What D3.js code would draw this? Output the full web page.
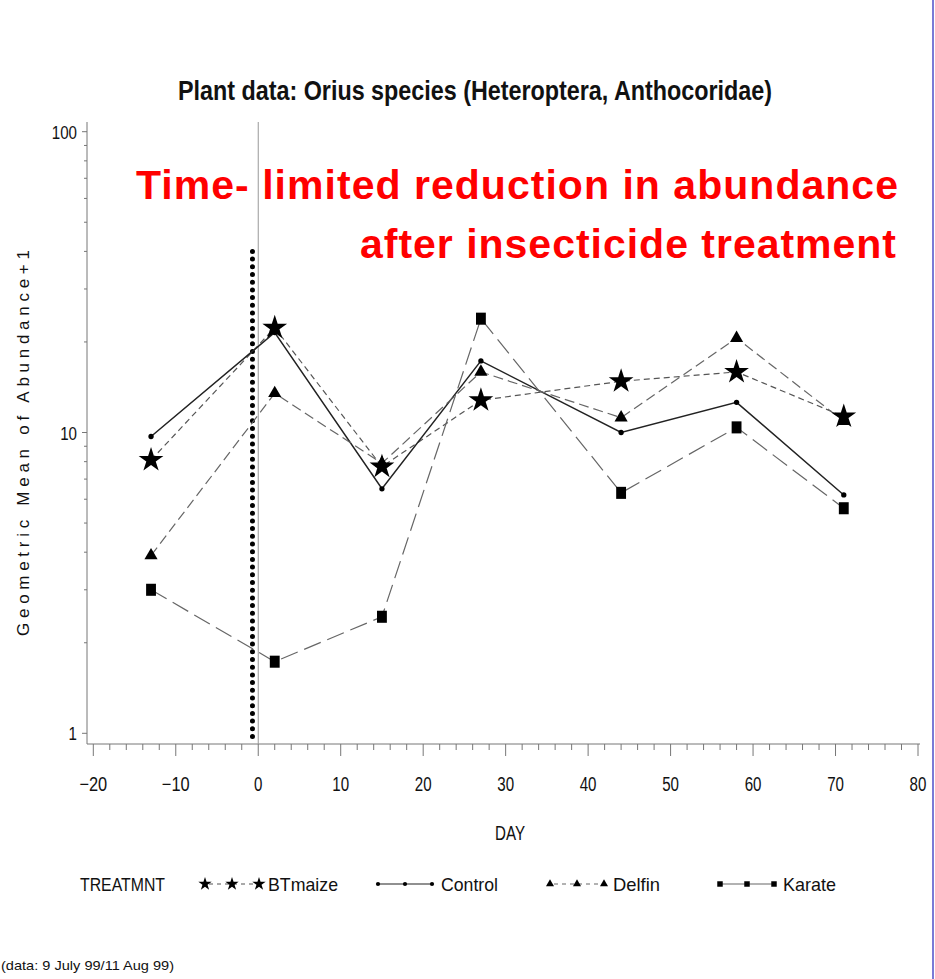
<!DOCTYPE html>
<html lang="en">

<head>
    <meta charset="UTF-8">
    <title>Plant data: Orius species</title>
    <script src="https://d3js.org/d3.v7.min.js"></script>
    <style>
        body {
            margin: 0;
            background: #fff;
        }

        .narrow {
            font-family: "Liberation Sans Narrow", "Arial Narrow", "Liberation Sans", Arial, sans-serif;
            fill: #111;
        }

        .series-line {
            fill: none;
        }
    </style>
</head>

<body>
    <script>
        // values (geometric mean of abundance + 1)
        const days = [-13, 2, 15, 27, 44, 58, 71];
        const btmaize = [8.1, 22.3, 7.7, 12.8, 14.8, 15.9, 11.3];
        const control = [9.7, 21.5, 6.5, 17.3, 10.0, 12.6, 6.2];
        const delfin = [3.9, 13.5, 7.9, 15.9, 11.2, 20.6, 10.9];
        const karate = [3.0, 1.73, 2.44, 23.9, 6.3, 10.4, 5.6];

        const treatments = ["BTmaize", "Control", "Delfin", "Karate"];
        const xTicks = [-20, -10, 0, 10, 20, 30, 40, 50, 60, 70, 80];
        const yTicks = [1, 10, 100];

        const width = 935;
        const height = 979;

        const svg = d3.select("body")
            .append("svg")
            .attr("width", width)
            .attr("height", height);

        const x = d3.scaleLinear().domain([-20, 80]).range([93.3, 918]);
        const y = d3.scaleLog().domain([1, 100]).range([733.3, 131.7]);

        const axisX = 87;     // y axis position
        const axisY = 744;    // x axis position
        const axisTop = 122;

        // squeeze text to look like the narrow SAS font
        const tickLabel = d => d < 0 ? "\u2212" + Math.abs(d) : String(d);
        const tickLen = s => s.replace("\u2212", "").length * 8.4 + (s.startsWith("\u2212") ? 11 : 0);

        // blue frame line at the right edge
        svg.append("line")
            .attr("x1", 933).attr("x2", 933)
            .attr("y1", 0).attr("y2", height)
            .attr("stroke", "#7b7bd6")
            .attr("stroke-width", 2);

        // title
        svg.append("text")
            .attr("class", "narrow")
            .attr("x", 475)
            .attr("y", 100)
            .attr("text-anchor", "middle")
            .attr("font-size", 27)
            .attr("font-weight", "bold")
            .attr("textLength", 594)
            .attr("lengthAdjust", "spacingAndGlyphs")
            .text("Plant data: Orius species (Heteroptera, Anthocoridae)");

        // axes lines
        svg.append("line")
            .attr("x1", axisX).attr("x2", axisX)
            .attr("y1", axisTop).attr("y2", axisY)
            .attr("stroke", "#777").attr("stroke-width", 1);
        svg.append("line")
            .attr("x1", axisX).attr("x2", 920)
            .attr("y1", axisY).attr("y2", axisY)
            .attr("stroke", "#777").attr("stroke-width", 1);

        // y ticks: majors with labels, minor log ticks
        const yMinor = d3.range(1, 100).filter(v => v > 1 && (v < 10 || v % 10 === 0) && v !== 10);
        svg.append("g").selectAll("line")
            .data(yMinor)
            .join("line")
            .attr("x1", axisX - 3).attr("x2", axisX)
            .attr("y1", d => y(d)).attr("y2", d => y(d))
            .attr("stroke", "#777");
        svg.append("g").selectAll("line")
            .data(yTicks)
            .join("line")
            .attr("x1", axisX - 5).attr("x2", axisX)
            .attr("y1", d => y(d)).attr("y2", d => y(d))
            .attr("stroke", "#777");
        svg.append("g").selectAll("text")
            .data(yTicks)
            .join("text")
            .attr("class", "narrow")
            .attr("x", axisX - 10)
            .attr("y", d => y(d) + 7)
            .attr("text-anchor", "end")
            .attr("font-size", 19)
            .attr("textLength", d => tickLen(tickLabel(d)))
            .attr("lengthAdjust", "spacingAndGlyphs")
            .text(tickLabel);

        // x ticks
        const xMinor = d3.range(-20, 81, 2).filter(v => v % 10 !== 0);
        svg.append("g").selectAll("line")
            .data(xMinor)
            .join("line")
            .attr("x1", d => x(d)).attr("x2", d => x(d))
            .attr("y1", axisY).attr("y2", axisY + 6)
            .attr("stroke", "#777");
        svg.append("g").selectAll("line")
            .data(xTicks)
            .join("line")
            .attr("x1", d => x(d)).attr("x2", d => x(d))
            .attr("y1", axisY).attr("y2", axisY + 12)
            .attr("stroke", "#777");
        svg.append("g").selectAll("text")
            .data(xTicks)
            .join("text")
            .attr("class", "narrow")
            .attr("x", d => x(d))
            .attr("y", 791)
            .attr("text-anchor", "middle")
            .attr("font-size", 20)
            .attr("textLength", d => tickLen(tickLabel(d)))
            .attr("lengthAdjust", "spacingAndGlyphs")
            .text(tickLabel);

        svg.append("text")
            .attr("class", "narrow")
            .attr("x", 510)
            .attr("y", 840)
            .attr("text-anchor", "middle")
            .attr("font-size", 20)
            .attr("textLength", 30)
            .attr("lengthAdjust", "spacingAndGlyphs")
            .text("DAY");

        // y label
        svg.append("text")
            .attr("transform", "translate(29,443) rotate(-90)")
            .attr("text-anchor", "middle")
            .attr("font-family", "Liberation Sans, Arial, sans-serif")
            .attr("font-size", 17)
            .attr("fill", "#111")
            .attr("textLength", 386)
            .attr("lengthAdjust", "spacing")
            .text("Geometric Mean of Abundance+1");

        // reference line at day 0 and treatment marker (dotted)
        svg.append("line")
            .attr("x1", x(0)).attr("x2", x(0))
            .attr("y1", axisTop).attr("y2", axisY)
            .attr("stroke", "#999").attr("stroke-width", 1);
        svg.append("line")
            .attr("x1", x(-0.7)).attr("x2", x(-0.7))
            .attr("y1", y(40)).attr("y2", axisY - 2)
            .attr("stroke", "#000")
            .attr("stroke-width", 5)
            .attr("stroke-linecap", "round")
            .attr("stroke-dasharray", "0 7.7");

        // red annotation
        const note = svg.append("g")
            .attr("font-family", "Liberation Sans, Arial, sans-serif")
            .attr("font-weight", "bold")
            .attr("font-size", 41)
            .attr("fill", "#ff0000")
            .attr("text-anchor", "end");
        note.append("text")
            .attr("x", 898).attr("y", 199)
            .attr("textLength", 762)
            .attr("lengthAdjust", "spacing")
            .text("Time- limited reduction in abundance");
        note.append("text")
            .attr("x", 896).attr("y", 258)
            .attr("textLength", 536)
            .attr("lengthAdjust", "spacing")
            .text("after insecticide treatment");

        // series definitions
        const series = [
            { name: "BTmaize", values: btmaize, symbol: d3.symbolStar, size: 190, dash: "6,4", stroke: "#555", width: 1.2 },
            { name: "Control", values: control, symbol: d3.symbolCircle, size: 22, dash: null, stroke: "#222", width: 1.5 },
            { name: "Delfin", values: delfin, symbol: d3.symbolTriangle, size: 75, dash: "10,5", stroke: "#666", width: 1.2 },
            { name: "Karate", values: karate, symbol: d3.symbolSquare, size: 120, dash: "18,7", stroke: "#666", width: 1.2 }
        ];

        const line = d3.line()
            .x(d => x(d[0]))
            .y(d => y(d[1]));

        series.forEach(s => {
            const pts = days.map((d, i) => [d, s.values[i]]);
            svg.append("path")
                .datum(pts)
                .attr("class", "series-line")
                .attr("d", line)
                .attr("stroke", s.stroke)
                .attr("stroke-width", s.width)
                .attr("stroke-dasharray", s.dash);
        });

        series.forEach(s => {
            const pts = days.map((d, i) => [d, s.values[i]]);
            svg.append("g").selectAll("path")
                .data(pts)
                .join("path")
                .attr("d", d3.symbol().type(s.symbol).size(s.size))
                .attr("transform", d => `translate(${x(d[0])},${y(d[1])})` + (s.name === "Karate" ? " scale(0.9,1.1)" : ""))
                .attr("fill", "#000");
        });

        // legend
        const legendY = 884;
        const legend = svg.append("g");
        legend.append("text")
            .attr("class", "narrow")
            .attr("x", 80).attr("y", legendY + 7)
            .attr("font-size", 19)
            .attr("textLength", 85)
            .attr("lengthAdjust", "spacingAndGlyphs")
            .text("TREATMNT");

        const legendPos = [205, 378, 550, 720];
        const legendSizes = [55, 14, 28, 30];
        const legendTextLen = [70, 57, 47, 53];
        series.forEach((s, i) => {
            const x0 = legendPos[i];
            const g = legend.append("g");
            g.append("line")
                .attr("x1", x0).attr("x2", x0 + 54)
                .attr("y1", legendY).attr("y2", legendY)
                .attr("stroke", s.stroke)
                .attr("stroke-width", 1.2)
                .attr("stroke-dasharray", s.name === "Control" || s.name === "Karate" ? null : "4,4")
                .attr("stroke-dashoffset", -4);
            g.selectAll("path")
                .data([0, 1, 2])
                .join("path")
                .attr("d", d3.symbol().type(s.symbol).size(legendSizes[i]))
                .attr("transform", d => `translate(${x0 + d * 27},${legendY})`)
                .attr("fill", "#000");
            g.append("text")
                .attr("class", "narrow")
                .attr("x", x0 + 63).attr("y", legendY + 7)
                .attr("font-size", 19)
                .attr("textLength", legendTextLen[i])
                .attr("lengthAdjust", "spacingAndGlyphs")
                .text(treatments[i]);
        });

        // footnote
        svg.append("text")
            .attr("class", "narrow")
            .attr("x", 1).attr("y", 970)
            .attr("font-size", 13)
            .attr("textLength", 173)
            .attr("lengthAdjust", "spacingAndGlyphs")
            .text("(data: 9 July 99/11 Aug 99)");
    </script>
</body>

</html>
